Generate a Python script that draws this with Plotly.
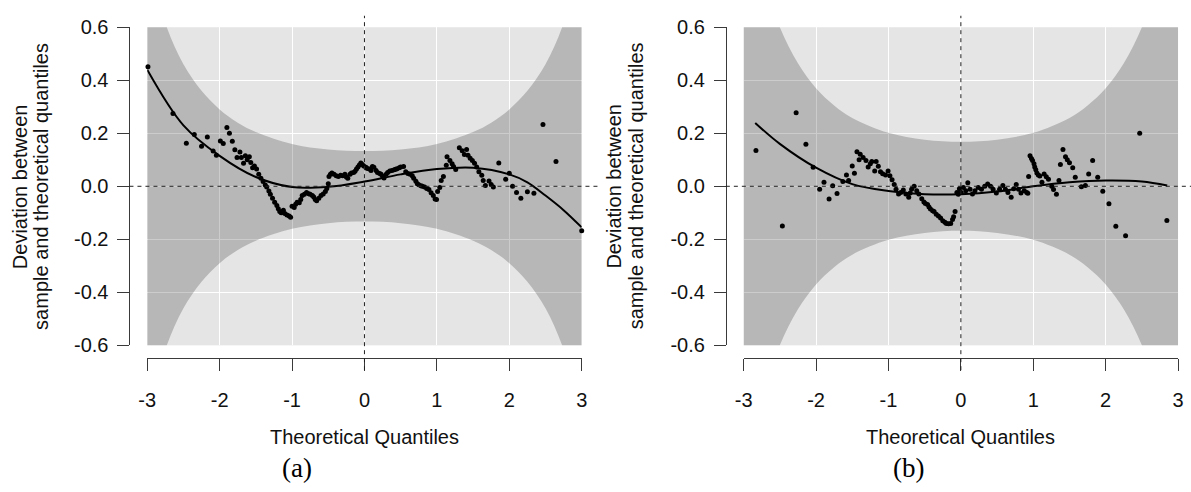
import plotly.graph_objects as go

W, H = 1191, 492

# ---------------- data: panel (a) ----------------
a_x = [-2.99, -2.645, -2.46, -2.35, -2.25, -2.17, -2.09, -2.045, -1.99, -1.95, -1.90, -1.865, -1.825,
       -1.79, -1.76, -1.72, -1.70, -1.67, -1.645, -1.62, -1.59, -1.57, -1.545, -1.52, -1.49, -1.46,
       -1.43, -1.40, -1.37, -1.35, -1.32, -1.30, -1.27, -1.24, -1.21, -1.19, -1.17, -1.15, -1.12,
       -1.10, -1.07, -1.04, -1.02, -1.00, -0.97, -0.95, -0.93, -0.90, -0.88, -0.86, -0.83, -0.80,
       -0.77, -0.75, -0.72, -0.70, -0.68, -0.66, -0.63, -0.60, -0.57, -0.54, -0.52, -0.50, -0.49,
       -0.47, -0.45, -0.42, -0.39, -0.36, -0.33, -0.30, -0.27, -0.25, -0.23, -0.20, -0.18, -0.15,
       -0.13, -0.11, -0.09, -0.07, -0.05, -0.03, -0.01, 0.02, 0.04, 0.07, 0.09, 0.11, 0.13, 0.16,
       0.18, 0.21, 0.23, 0.25, 0.27, 0.30, 0.32, 0.35, 0.38, 0.41, 0.43, 0.45, 0.48, 0.50, 0.54,
       0.57, 0.60, 0.63, 0.66, 0.68, 0.71, 0.73, 0.75, 0.78, 0.80, 0.83, 0.86, 0.89, 0.92, 0.95,
       0.975, 0.995, 1.01, 1.04, 1.06, 1.09, 1.13, 1.14, 1.18, 1.21, 1.23, 1.26, 1.31, 1.35, 1.38,
       1.41, 1.43, 1.46, 1.49, 1.52, 1.55, 1.58, 1.62, 1.64, 1.67, 1.72, 1.75, 1.78, 1.855, 1.95,
       2.00, 2.045, 2.10, 2.16, 2.25, 2.34, 2.465, 2.645, 3.00]
a_y = [0.451, 0.275, 0.162, 0.195, 0.151, 0.186, 0.133, 0.117, 0.171, 0.161, 0.222, 0.200, 0.170,
       0.138, 0.109, 0.129, 0.109, 0.087, 0.115, 0.100, 0.111, 0.090, 0.070, 0.077, 0.065, 0.045,
       0.030, 0.018, 0.005, -0.003, -0.018, -0.030, -0.045, -0.060, -0.072, -0.085, -0.095, -0.100, -0.090,
       -0.103, -0.108, -0.112, -0.117, -0.075, -0.080, -0.068, -0.060, -0.062, -0.050, -0.035, -0.030, -0.023,
       -0.028, -0.030, -0.035, -0.040, -0.050, -0.055, -0.045, -0.035, -0.029, -0.020, -0.008, 0.010, 0.037,
       0.045, 0.050, 0.045, 0.040, 0.037, 0.042, 0.040, 0.045, 0.035, 0.030, 0.045, 0.050, 0.052,
       0.057, 0.065, 0.073, 0.080, 0.088, 0.082, 0.077, 0.072, 0.067, 0.065, 0.060, 0.075, 0.072, 0.060,
       0.052, 0.048, 0.045, 0.038, 0.031, 0.045, 0.052, 0.058, 0.060, 0.062, 0.064, 0.066, 0.070, 0.073, 0.075,
       0.055, 0.048, 0.045, 0.040, 0.030, 0.019, 0.010, 0.006, 0.002, 0.000, -0.003, -0.008, -0.012, -0.024, -0.035,
       -0.048, -0.050, -0.020, -0.005, 0.022, 0.037, 0.079, 0.111, 0.097, 0.085, 0.075, 0.063, 0.145, 0.134, 0.120,
       0.139, 0.117, 0.106, 0.097, 0.087, 0.073, 0.055, 0.042, 0.022, 0.003, 0.020, 0.007, -0.003, 0.088, 0.027,
       0.049, 0.000, -0.023, -0.045, -0.021, -0.026, 0.233, 0.094, -0.168]

a_fit_x = [-3.0, -2.5, -2.0, -1.5, -1.0, -0.5, 0.0, 0.5, 1.0, 1.5, 2.0, 2.25, 2.5, 2.75, 3.0]
a_fit_y = [0.44, 0.23, 0.115, 0.035, -0.003, -0.002, 0.018, 0.045, 0.065, 0.070, 0.045, 0.015, -0.035, -0.090, -0.155]

# ---------------- data: panel (b) ----------------
b_x = [-2.83, -2.465, -2.275, -2.14, -2.04, -1.95, -1.89, -1.82, -1.77, -1.71, -1.63, -1.58, -1.55,
       -1.50, -1.47, -1.435, -1.405, -1.39, -1.35, -1.31, -1.28, -1.25, -1.23, -1.19, -1.17, -1.14,
       -1.11, -1.08, -1.04, -1.005, -0.98, -0.95, -0.92, -0.895, -0.86, -0.83, -0.795, -0.76, -0.72,
       -0.70, -0.68, -0.645, -0.61, -0.58, -0.54, -0.51, -0.49, -0.46, -0.44, -0.42, -0.39, -0.37,
       -0.34, -0.31, -0.28, -0.25, -0.22, -0.20, -0.17, -0.14, -0.115, -0.10, -0.08, -0.055, -0.035,
       -0.02, 0.005, 0.035, 0.068, 0.096, 0.127, 0.16, 0.195, 0.24, 0.285, 0.33, 0.37, 0.41, 0.445,
       0.49, 0.535, 0.58, 0.615, 0.65, 0.695, 0.73, 0.765, 0.795, 0.83, 0.875, 0.91, 0.925, 0.936,
       0.955, 0.975, 0.99, 1.01, 1.02, 1.035, 1.05, 1.07, 1.09, 1.12, 1.15, 1.18, 1.21, 1.255, 1.28,
       1.32, 1.355, 1.375, 1.41, 1.445, 1.47, 1.50, 1.545, 1.58, 1.665, 1.72, 1.765, 1.82, 1.89, 1.96,
       2.045, 2.14, 2.275, 2.47, 2.845]
b_y = [0.135, -0.150, 0.277, 0.159, 0.072, -0.011, 0.015, -0.048, 0.002, -0.027, 0.018, 0.043, 0.022,
       0.077, 0.049, 0.130, 0.100, 0.121, 0.109, 0.097, 0.073, 0.085, 0.094, 0.058, 0.094, 0.076,
       0.055, 0.047, 0.043, 0.058, 0.040, 0.025, 0.007, -0.011, -0.029, -0.023, -0.014, -0.029, -0.041,
       -0.025, -0.011, 0.000, -0.017, -0.029, -0.047, -0.059, -0.065, -0.069, -0.078, -0.086, -0.092, -0.095,
       -0.105, -0.112, -0.120, -0.130, -0.136, -0.140, -0.141, -0.140, -0.125, -0.115, -0.095, -0.023, -0.030,
       -0.009, -0.023, -0.005, -0.017, 0.013, -0.011, -0.029, -0.017, -0.005, -0.011, 0.000, 0.009, 0.000, -0.011,
       -0.025, -0.011, 0.003, -0.011, -0.023, -0.041, -0.009, 0.007, -0.011, -0.025, -0.017, -0.023, -0.026, 0.037,
       0.115, 0.105, 0.097, 0.085, 0.073, 0.062, 0.050, 0.043, 0.039, 0.015, 0.046, 0.036, 0.027, 0.000, -0.012,
       -0.030, 0.022, 0.082, 0.139, 0.111, 0.100, 0.089, 0.070, 0.034, -0.002, 0.003, 0.046, 0.097, 0.034, -0.019,
       -0.066, -0.151, -0.187, 0.200, -0.129]

b_fit_x = [-2.84, -2.5, -2.0, -1.5, -1.0, -0.5, 0.0, 0.5, 1.0, 1.5, 2.0, 2.5, 2.85]
b_fit_y = [0.239, 0.16, 0.07, 0.008, -0.018, -0.030, -0.030, -0.020, 0.000, 0.015, 0.022, 0.018, 0.003]

# ---------------- confidence band half-widths ----------------
band_x = [-3.0, -2.75, -2.5, -2.25, -2.0, -1.75, -1.5, -1.0, -0.5, 0.0, 0.5, 1.0, 1.5, 1.75, 2.0, 2.25, 2.5, 2.75, 3.0]
band_a = [0.86, 0.615, 0.46, 0.36, 0.29, 0.24, 0.205, 0.160, 0.139, 0.133, 0.139, 0.160, 0.205, 0.24, 0.29, 0.36, 0.46, 0.615, 0.86]
band_b = [1.11, 0.80, 0.60, 0.464, 0.370, 0.305, 0.258, 0.202, 0.176, 0.168, 0.176, 0.202, 0.258, 0.305, 0.370, 0.464, 0.60, 0.80, 1.11]

x_ticks = [-3, -2, -1, 0, 1, 2, 3]
x_ticktext = ["-3", "-2", "-1", "0", "1", "2", "3"]
y_ticks = [-0.6, -0.4, -0.2, 0.0, 0.2, 0.4, 0.6]
y_ticktext = ["-0.6", "-0.4", "-0.2", "0.0", "0.2", "0.4", "0.6"]
grid_x = [-2, -1, 0, 1, 2]
grid_y = [-0.4, -0.2, 0.0, 0.2, 0.4]

FONT = "Liberation Sans, Arial, sans-serif"
FS = 20
AXC = "#3a3a3a"
BAND = "rgba(0,0,0,0.20)"

panels = [
    dict(x0=140, x1=580, yline=122, xa="x", ya="y", label="(a)", labx=292,
         pts=(a_x, a_y), fit=(a_fit_x, a_fit_y), band=band_a, t1x=11, t2x=33),
    dict(x0=744, x1=1184, yline=726, xa="x2", ya="y2", label="(b)", labx=911,
         pts=(b_x, b_y), fit=(b_fit_x, b_fit_y), band=band_b, t1x=613, t2x=635),
]
ytop, ybot, xline_y = 17, 350, 363.3

fig = go.Figure()
layout = dict(width=W, height=H, margin=dict(l=0, r=0, t=0, b=0), showlegend=False,
              paper_bgcolor="white", plot_bgcolor="#e5e5e5", shapes=[], annotations=[])

for i, p in enumerate(panels):
    xa, ya = p["xa"], p["ya"]
    suffix = "" if i == 0 else "2"
    layout["xaxis" + suffix] = dict(
        domain=[p["x0"] / W, p["x1"] / W], range=[-3, 3], anchor="free", position=1 - xline_y / H,
        showline=True, linecolor=AXC, linewidth=1, ticks="outside", ticklen=12, tickcolor=AXC, tickwidth=1,
        tickvals=x_ticks, ticktext=x_ticktext, tickfont=dict(family=FONT, size=FS, color="#111"),
        ticklabelstandoff=12,
        showgrid=False, zeroline=False, fixedrange=True,
        minor=dict(tickvals=grid_x, showgrid=True, gridcolor="white", gridwidth=1, ticks=""),
    )
    layout["yaxis" + suffix] = dict(
        domain=[1 - ybot / H, 1 - ytop / H], range=[-0.6, 0.6], anchor="free", position=p["yline"] / W,
        showline=True, linecolor=AXC, linewidth=1, ticks="outside", ticklen=12, tickcolor=AXC, tickwidth=1,
        tickvals=y_ticks, ticktext=y_ticktext, tickfont=dict(family=FONT, size=FS, color="#111"),
        ticklabelstandoff=5,
        showgrid=False, zeroline=False, fixedrange=True,
        minor=dict(tickvals=grid_y, showgrid=True, gridcolor="white", gridwidth=1, ticks=""),
    )
    band = p["band"]
    fig.add_trace(go.Scatter(x=band_x, y=[-v for v in band], mode="lines", line=dict(width=0, shape="spline"),
                             xaxis=xa, yaxis=ya, hoverinfo="skip"))
    fig.add_trace(go.Scatter(x=band_x, y=band, mode="lines", line=dict(width=0, shape="spline"),
                             fill="tonexty", fillcolor=BAND, xaxis=xa, yaxis=ya, hoverinfo="skip"))
    fx, fy = p["fit"]
    fig.add_trace(go.Scatter(x=fx, y=fy, mode="lines", line=dict(color="black", width=2, shape="spline"),
                             xaxis=xa, yaxis=ya))
    px_, py_ = p["pts"]
    fig.add_trace(go.Scatter(x=px_, y=py_, mode="markers", marker=dict(color="black", size=5),
                             cliponaxis=False, xaxis=xa, yaxis=ya))

    span = p["x1"] - p["x0"]
    dom = ybot - ytop
    layout["shapes"].append(dict(type="line", xref=xa + " domain", yref=ya, x0=(p["yline"] - p["x0"]) / span,
                                 x1=(p["x1"] + 17.5 - p["x0"]) / span, y0=0, y1=0, layer="above",
                                 line=dict(color="#222", width=1, dash="4px,4px")))
    layout["shapes"].append(dict(type="line", xref=xa, yref=ya + " domain", x0=0, x1=0,
                                 y0=(ybot - 376) / dom, y1=(ybot - 5) / dom, layer="above",
                                 line=dict(color="#222", width=1, dash="4px,4px")))
    cx = (p["x0"] + p["x1"]) / 2
    layout["annotations"].append(dict(text="Theoretical Quantiles", xref="paper", yref="paper", x=cx / W,
                                      y=1 - 446 / H, xanchor="center", yanchor="middle", showarrow=False,
                                      font=dict(family=FONT, size=FS, color="#111")))
    layout["annotations"].append(dict(text="Deviation between", xref="paper", yref="paper", x=p["t1x"] / W,
                                      y=1 - 183.5 / H, xanchor="center", yanchor="middle", showarrow=False,
                                      textangle=-90, font=dict(family=FONT, size=FS, color="#111")))
    layout["annotations"].append(dict(text="sample and theoretical quantiles", xref="paper", yref="paper",
                                      x=p["t2x"] / W, y=1 - 183.5 / H, xanchor="center", yanchor="middle",
                                      showarrow=False, textangle=-90,
                                      font=dict(family=FONT, size=FS, color="#111")))
    layout["annotations"].append(dict(text=p["label"], xref="paper", yref="paper", x=p["labx"] / W,
                                      y=1 - 478 / H, xanchor="center", yanchor="middle", showarrow=False,
                                      font=dict(family="Liberation Serif, Times New Roman, serif", size=27,
                                                color="black")))

fig.update_layout(**layout)
fig.write_html("out.html")
